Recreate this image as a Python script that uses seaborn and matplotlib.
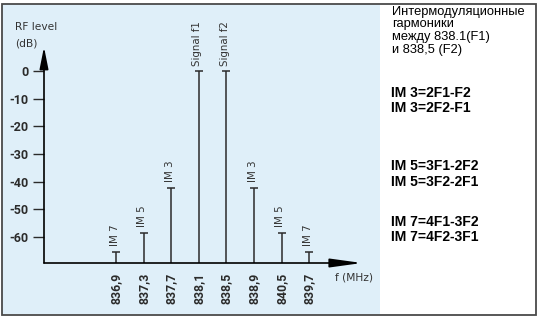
import matplotlib
matplotlib.use("Agg")
import matplotlib.pyplot as plt
import matplotlib.patches as mpatches
import seaborn as sns
import pandas as pd

# ---- data ----
freq_labels = ["836,9", "837,3", "837,7", "838,1", "838,5", "838,9", "840,5", "839,7"]
levels = [-65.4, -58.5, -42.2, 0.0, 0.0, -42.2, -58.5, -65.4]
stem_labels = ["IM 7", "IM 5", "IM 3", "Signal f1", "Signal f2", "IM 3", "IM 5", "IM 7"]
y_ticks = [0, -10, -20, -30, -40, -50, -60]
info_lines = ["Интермодуляционные", "гармоники", "между 838.1(F1)", "и 838,5 (F2)"]
formula_lines = ["IM 3=2F1-F2", "IM 3=2F2-F1", "IM 5=3F1-2F2", "IM 5=3F2-2F1",
                 "IM 7=4F1-3F2", "IM 7=4F2-3F1"]

sns.set_theme(style="white")
plt.rcParams['font.family'] = ['DejaVu Sans']

W, H = 540, 319
fig = plt.figure(figsize=(W / 100, H / 100), dpi=100)
fig.patch.set_facecolor("white")

def fx(px):
    return px / W

def fy(py):
    return 1 - py / H

# blue panel and outer frame
fig.patches.append(mpatches.Rectangle((fx(2), fy(314)), fx(380 - 2), (314 - 4) / H,
                                      transform=fig.transFigure, facecolor="#dfeff9",
                                      edgecolor="none", zorder=-5))
fig.patches.append(mpatches.Rectangle((fx(1.5), fy(315)), fx(536 - 1.5), (315 - 4) / H,
                                      transform=fig.transFigure, facecolor="none",
                                      edgecolor="#4a4a4a", linewidth=1.3, zorder=5))

# main axes
x0, x1 = 44, 362
ytop, ybot = 47, 263
ax = fig.add_axes([fx(x0), fy(ybot), fx(x1 - x0), (ybot - ytop) / H])
ax.set_facecolor("none")
ax.set_xlim(-2.61, 8.91)
ax.set_ylim(-69.4, 8.7)
for s in ax.spines.values():
    s.set_visible(False)

dark = "#2b2b2b"
# axes with arrows
ax.annotate("", xy=(0, 1), xytext=(0, 0), xycoords="axes fraction",
            arrowprops=dict(arrowstyle="-|>,head_length=1.1,head_width=0.22", color="black",
                            lw=1.2, shrinkA=0, shrinkB=0))
ax.annotate("", xy=(1, 0), xytext=(0, 0), xycoords="axes fraction",
            arrowprops=dict(arrowstyle="-|>,head_length=1.6,head_width=0.22", color="black",
                            lw=1.2, shrinkA=0, shrinkB=0))

xs = list(range(len(freq_labels)))
df = pd.DataFrame({"x": xs, "level": levels, "label": stem_labels})

base = ax.get_ylim()[0]
ax.vlines(df["x"], base, df["level"], color=dark, linewidth=1.1)
sns.scatterplot(data=df, x="x", y="level", marker="_", s=30, color=dark,
                linewidth=1.1, ax=ax, legend=False, zorder=3)

for _, r in df.iterrows():
    ax.annotate(r["label"], xy=(r["x"], r["level"]), xytext=(-1, 4),
                textcoords="offset points", rotation=90, ha="center", va="bottom",
                fontsize=7.4, color="#333333", family=["DejaVu Sans"])

narrow = ["Liberation Sans Narrow", "Roboto", "DejaVu Sans"]
ax.set_yticks(y_ticks)
ax.set_yticklabels([str(v) for v in y_ticks], family=narrow, fontsize=9,
                   fontweight="bold", color=dark)
ax.tick_params(axis="y", direction="out", length=8, width=1.0, color=dark, pad=3, left=True)
ax.set_xticks(xs)
ax.set_xticklabels(freq_labels, rotation=90, family=narrow, fontsize=8.8, color=dark,
                   fontweight="bold", va="top")
ax.tick_params(axis="x", length=0, pad=7)
ax.set_xlabel("")
ax.set_ylabel("")
ax.grid(False)

# axis titles
lbl_font = ["DejaVu Sans"]
fig.text(fx(15), fy(27), "RF level", fontsize=7.7, color="#333333", va="center", ha="left",
         family=lbl_font)
fig.text(fx(15), fy(44), "(dB)", fontsize=7.7, color="#333333", va="center", ha="left",
         family=lbl_font)
fig.text(fx(335), fy(277), "f (MHz)", fontsize=7.7, color="#333333", va="center", ha="left",
         family=lbl_font)

# right-hand text
info_y = [12.5, 24, 37, 49.5]
for t, yy in zip(info_lines, info_y):
    fig.text(fx(392), fy(yy), t, fontsize=9.3, color="black", va="center", ha="left",
             family=["Liberation Sans", "DejaVu Sans"])
form_y = [93, 108, 166, 182, 222, 237]
for t, yy in zip(formula_lines, form_y):
    fig.text(fx(391), fy(yy), t, fontsize=10, fontweight="bold", color="black",
             va="center", ha="left", family=["Liberation Sans", "DejaVu Sans"])

fig.savefig("out.png", dpi=100)
